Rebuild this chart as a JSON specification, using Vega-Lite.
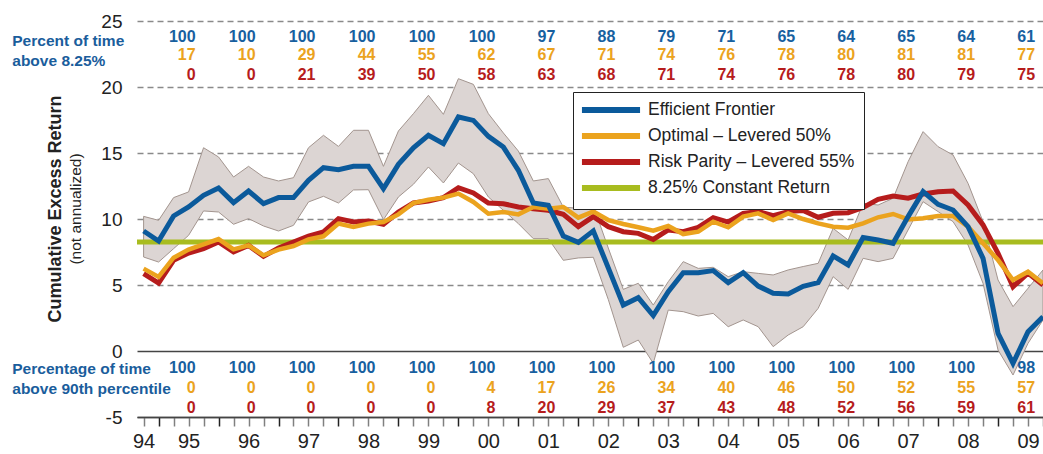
{
  "$schema": "https://vega.github.io/schema/vega-lite/v6.json",
  "width": 906,
  "height": 396,
  "autosize": {"type": "none"},
  "padding": {"left": 137, "top": 21, "right": 0, "bottom": 37},
  "background": "white",
  "title": {
    "text": "Cumulative Excess Return",
    "subtitle": "(not annualized)",
    "orient": "left",
    "anchor": "middle",
    "font": "Liberation Sans",
    "fontSize": 18,
    "fontWeight": "bold",
    "color": "#222222",
    "subtitleFont": "Liberation Sans",
    "subtitleFontSize": 15.5,
    "subtitleColor": "#222222",
    "subtitlePadding": 4,
    "offset": 12,
    "dx": 10,
    "dy": 84
  },
  "config": {"view": {"stroke": null}, "font": "Liberation Sans"},
  "datasets": {
    "series": [
      {"t":1994.75,"ef":9.09,"opt":6.24,"rp":5.86,"hi":10.2,"lo":7.12},
      {"t":1995.0,"ef":8.33,"opt":5.61,"rp":5.15,"hi":9.9,"lo":6.74},
      {"t":1995.25,"ef":10.23,"opt":7.07,"rp":6.87,"hi":11.62,"lo":7.75},
      {"t":1995.5,"ef":10.91,"opt":7.68,"rp":7.42,"hi":12.05,"lo":8.76},
      {"t":1995.75,"ef":11.79,"opt":8.08,"rp":7.75,"hi":15.4,"lo":10.61},
      {"t":1996.0,"ef":12.35,"opt":8.48,"rp":8.26,"hi":14.7,"lo":10.53},
      {"t":1996.25,"ef":11.24,"opt":7.7,"rp":7.5,"hi":13.18,"lo":9.6},
      {"t":1996.5,"ef":12.12,"opt":8.0,"rp":8.0,"hi":13.99,"lo":10.03},
      {"t":1996.75,"ef":11.16,"opt":7.25,"rp":7.17,"hi":13.18,"lo":9.47},
      {"t":1997.0,"ef":11.62,"opt":7.68,"rp":7.8,"hi":12.88,"lo":9.09},
      {"t":1997.25,"ef":11.62,"opt":7.95,"rp":8.26,"hi":13.13,"lo":9.52},
      {"t":1997.5,"ef":12.93,"opt":8.46,"rp":8.71,"hi":15.4,"lo":11.29},
      {"t":1997.75,"ef":13.89,"opt":8.69,"rp":9.02,"hi":16.34,"lo":11.72},
      {"t":1998.0,"ef":13.74,"opt":9.65,"rp":10.03,"hi":15.5,"lo":11.21},
      {"t":1998.25,"ef":13.99,"opt":9.4,"rp":9.77,"hi":16.72,"lo":12.2},
      {"t":1998.5,"ef":13.99,"opt":9.65,"rp":9.85,"hi":16.72,"lo":12.22},
      {"t":1998.75,"ef":12.3,"opt":9.77,"rp":9.6,"hi":13.99,"lo":9.95},
      {"t":1999.0,"ef":14.14,"opt":10.35,"rp":10.53,"hi":16.67,"lo":11.67},
      {"t":1999.25,"ef":15.4,"opt":11.21,"rp":11.21,"hi":17.98,"lo":12.63},
      {"t":1999.5,"ef":16.34,"opt":11.46,"rp":11.36,"hi":19.37,"lo":13.94},
      {"t":1999.75,"ef":15.71,"opt":11.62,"rp":11.62,"hi":17.93,"lo":12.73},
      {"t":2000.0,"ef":17.73,"opt":11.92,"rp":12.37,"hi":20.63,"lo":14.24},
      {"t":2000.25,"ef":17.47,"opt":11.29,"rp":11.97,"hi":20.2,"lo":13.43},
      {"t":2000.5,"ef":16.26,"opt":10.4,"rp":11.21,"hi":17.98,"lo":11.67},
      {"t":2000.75,"ef":15.45,"opt":10.53,"rp":11.16,"hi":16.52,"lo":10.66},
      {"t":2001.0,"ef":13.69,"opt":10.35,"rp":10.91,"hi":15.15,"lo":9.65},
      {"t":2001.25,"ef":11.21,"opt":10.91,"rp":10.78,"hi":12.88,"lo":8.51},
      {"t":2001.5,"ef":11.04,"opt":10.78,"rp":10.66,"hi":13.06,"lo":8.51},
      {"t":2001.75,"ef":8.7,"opt":10.91,"rp":10.35,"hi":10.9,"lo":6.87},
      {"t":2002.0,"ef":8.23,"opt":10.1,"rp":9.42,"hi":10.81,"lo":7.05},
      {"t":2002.25,"ef":9.1,"opt":10.56,"rp":10.18,"hi":11.01,"lo":7.1},
      {"t":2002.5,"ef":6.3,"opt":9.92,"rp":9.42,"hi":7.8,"lo":3.9},
      {"t":2002.75,"ef":3.48,"opt":9.62,"rp":9.04,"hi":4.67,"lo":0.28},
      {"t":2003.0,"ef":4.04,"opt":9.37,"rp":8.91,"hi":5.13,"lo":0.83},
      {"t":2003.25,"ef":2.68,"opt":9.12,"rp":8.45,"hi":3.48,"lo":-0.93},
      {"t":2003.5,"ef":4.49,"opt":9.47,"rp":9.17,"hi":5.25,"lo":3.1},
      {"t":2003.75,"ef":5.93,"opt":8.86,"rp":9.04,"hi":6.77,"lo":2.98},
      {"t":2004.0,"ef":5.93,"opt":9.04,"rp":9.37,"hi":6.26,"lo":2.65},
      {"t":2004.25,"ef":6.09,"opt":9.8,"rp":10.1,"hi":6.34,"lo":2.85},
      {"t":2004.5,"ef":5.18,"opt":9.37,"rp":9.77,"hi":5.63,"lo":1.84},
      {"t":2004.75,"ef":5.93,"opt":10.18,"rp":10.43,"hi":6.01,"lo":2.35},
      {"t":2005.0,"ef":4.92,"opt":10.43,"rp":10.56,"hi":5.88,"lo":1.84},
      {"t":2005.25,"ef":4.37,"opt":9.92,"rp":10.25,"hi":5.76,"lo":0.33},
      {"t":2005.5,"ef":4.32,"opt":10.43,"rp":10.56,"hi":6.14,"lo":1.21},
      {"t":2005.75,"ef":4.9,"opt":10.0,"rp":10.65,"hi":6.4,"lo":1.84},
      {"t":2006.0,"ef":5.18,"opt":9.67,"rp":10.13,"hi":6.64,"lo":3.23},
      {"t":2006.25,"ef":7.2,"opt":9.42,"rp":10.43,"hi":9.29,"lo":5.63},
      {"t":2006.5,"ef":6.52,"opt":9.34,"rp":10.48,"hi":8.41,"lo":4.67},
      {"t":2006.75,"ef":8.59,"opt":9.67,"rp":10.88,"hi":11.19,"lo":7.02},
      {"t":2007.0,"ef":8.41,"opt":10.13,"rp":11.49,"hi":11.06,"lo":6.77},
      {"t":2007.25,"ef":8.16,"opt":10.38,"rp":11.74,"hi":11.57,"lo":7.02},
      {"t":2007.5,"ef":10.18,"opt":9.97,"rp":11.57,"hi":14.34,"lo":9.17},
      {"t":2007.75,"ef":12.07,"opt":10.05,"rp":11.89,"hi":16.62,"lo":11.31},
      {"t":2008.0,"ef":11.11,"opt":10.23,"rp":12.07,"hi":15.48,"lo":10.56},
      {"t":2008.25,"ef":10.68,"opt":10.23,"rp":12.12,"hi":14.85,"lo":9.8},
      {"t":2008.5,"ef":9.42,"opt":9.42,"rp":11.06,"hi":12.7,"lo":8.03},
      {"t":2008.75,"ef":7.02,"opt":8.16,"rp":9.55,"hi":9.8,"lo":5.13},
      {"t":2009.0,"ef":1.34,"opt":6.89,"rp":7.4,"hi":5.38,"lo":0.08},
      {"t":2009.25,"ef":-0.93,"opt":5.38,"rp":4.87,"hi":3.36,"lo":-1.82},
      {"t":2009.5,"ef":1.46,"opt":6.01,"rp":5.9,"hi":4.75,"lo":0.58},
      {"t":2009.75,"ef":2.6,"opt":5.13,"rp":5.0,"hi":6.14,"lo":2.35}
    ],
    "pct": [
      {"year":1995,"ef_above":100,"opt_above":17,"rp_above":0,"ef_p90":100,"opt_p90":0,"rp_p90":0},
      {"year":1996,"ef_above":100,"opt_above":10,"rp_above":0,"ef_p90":100,"opt_p90":0,"rp_p90":0},
      {"year":1997,"ef_above":100,"opt_above":29,"rp_above":21,"ef_p90":100,"opt_p90":0,"rp_p90":0},
      {"year":1998,"ef_above":100,"opt_above":44,"rp_above":39,"ef_p90":100,"opt_p90":0,"rp_p90":0},
      {"year":1999,"ef_above":100,"opt_above":55,"rp_above":50,"ef_p90":100,"opt_p90":0,"rp_p90":0},
      {"year":2000,"ef_above":100,"opt_above":62,"rp_above":58,"ef_p90":100,"opt_p90":4,"rp_p90":8},
      {"year":2001,"ef_above":97,"opt_above":67,"rp_above":63,"ef_p90":100,"opt_p90":17,"rp_p90":20},
      {"year":2002,"ef_above":88,"opt_above":71,"rp_above":68,"ef_p90":100,"opt_p90":26,"rp_p90":29},
      {"year":2003,"ef_above":79,"opt_above":74,"rp_above":71,"ef_p90":100,"opt_p90":34,"rp_p90":37},
      {"year":2004,"ef_above":71,"opt_above":76,"rp_above":74,"ef_p90":100,"opt_p90":40,"rp_p90":43},
      {"year":2005,"ef_above":65,"opt_above":78,"rp_above":76,"ef_p90":100,"opt_p90":46,"rp_p90":48},
      {"year":2006,"ef_above":64,"opt_above":80,"rp_above":78,"ef_p90":100,"opt_p90":50,"rp_p90":52},
      {"year":2007,"ef_above":65,"opt_above":81,"rp_above":80,"ef_p90":100,"opt_p90":52,"rp_p90":56},
      {"year":2008,"ef_above":64,"opt_above":81,"rp_above":79,"ef_p90":100,"opt_p90":55,"rp_p90":59},
      {"year":2009,"ef_above":61,"opt_above":77,"rp_above":75,"ef_p90":98,"opt_p90":57,"rp_p90":61}
    ]
  },
  "layer": [
    {
      "data": {"name": "series"},
      "mark": {"type": "area", "fill": "#dcd5d3", "stroke": "#a3958f", "strokeWidth": 1},
      "encoding": {
        "x": {
          "field": "t", "type": "quantitative", "title": null,
          "scale": {"domain": [1994.64, 2009.75], "nice": false, "zero": false},
          "axis": {
            "values": [1994.75,1995,1995.25,1995.5,1995.75,1996,1996.25,1996.5,1996.75,1997,1997.25,1997.5,1997.75,1998,1998.25,1998.5,1998.75,1999,1999.25,1999.5,1999.75,2000,2000.25,2000.5,2000.75,2001,2001.25,2001.5,2001.75,2002,2002.25,2002.5,2002.75,2003,2003.25,2003.5,2003.75,2004,2004.25,2004.5,2004.75,2005,2005.25,2005.5,2005.75,2006,2006.25,2006.5,2006.75,2007,2007.25,2007.5,2007.75,2008,2008.25,2008.5,2008.75,2009,2009.25,2009.5,2009.75],
            "tickCount": 100,
            "labelExpr": "datum.value == 1994.75 ? '94' : ((datum.value - floor(datum.value)) == 0.5 ? format(floor(datum.value) % 100, '02d') : '')",
            "grid": false,
            "tickSize": 9,
            "tickWidth": 1.5,
            "tickColor": {"condition": {"test": "datum.value == floor(datum.value)", "value": "#222222"}, "value": "#808080"},
            "domainColor": "#444444",
            "domainWidth": 1.5,
            "labelFont": "Liberation Sans",
            "labelFontSize": 20,
            "labelColor": "#222222",
            "labelPadding": 5,
            "labelOverlap": false,
            "labelBound": false,
            "labelFlush": false
          }
        },
        "y": {
          "field": "hi", "type": "quantitative", "title": null,
          "scale": {"domain": [-5, 25], "nice": false, "zero": false},
          "axis": {
            "values": [-5, 0, 5, 10, 15, 20, 25],
            "labelExpr": "'' + datum.value",
            "grid": true,
            "gridDash": {"condition": {"test": "datum.value <= 0", "value": []}, "value": [6, 4]},
            "gridColor": {"condition": {"test": "datum.value <= 0", "value": "#444444"}, "value": "#8a8a8a"},
            "gridWidth": 1.5,
            "domain": false,
            "ticks": false,
            "tickSize": 0,
            "labelPadding": 15,
            "labelFont": "Liberation Sans",
            "labelFontSize": 19,
            "labelColor": "#222222"
          }
        },
        "y2": {"field": "lo"}
      }
    },
    {
      "data": {"values": [{"level": 8.25}]},
      "mark": {"type": "rule", "strokeWidth": 5},
      "encoding": {
        "y": {"field": "level", "type": "quantitative", "title": null},
        "color": {"datum": "8.25% Constant Return", "type": "nominal"}
      }
    },
    {
      "data": {"name": "series"},
      "mark": {"type": "line", "strokeWidth": 5},
      "encoding": {
        "x": {"field": "t", "type": "quantitative", "title": null},
        "y": {"field": "rp", "type": "quantitative", "title": null},
        "color": {"datum": "Risk Parity – Levered 55%", "type": "nominal"}
      }
    },
    {
      "data": {"name": "series"},
      "mark": {"type": "line", "strokeWidth": 4.5},
      "encoding": {
        "x": {"field": "t", "type": "quantitative", "title": null},
        "y": {"field": "opt", "type": "quantitative", "title": null},
        "color": {"datum": "Optimal – Levered 50%", "type": "nominal"}
      }
    },
    {
      "data": {"name": "series"},
      "mark": {"type": "line", "strokeWidth": 5},
      "encoding": {
        "x": {"field": "t", "type": "quantitative", "title": null},
        "y": {"field": "ef", "type": "quantitative", "title": null},
        "color": {
          "datum": "Efficient Frontier", "type": "nominal",
          "scale": {
            "domain": ["Efficient Frontier", "Optimal – Levered 50%", "Risk Parity – Levered 55%", "8.25% Constant Return"],
            "range": ["#0b5a9b", "#eba31e", "#b61c1c", "#a8bc1f"]
          },
          "legend": {
            "title": null,
            "orient": "none",
            "legendX": 436,
            "legendY": 71,
            "symbolType": "M-5,0H5",
            "symbolSize": 135,
            "symbolStrokeWidth": 6,
            "symbolOffset": 20,
            "labelFont": "Liberation Sans",
            "labelFontSize": 17.5,
            "labelColor": "#222222",
            "labelOffset": 28,
            "labelLimit": 400,
            "rowPadding": 2,
            "padding": 9,
            "strokeColor": "#222222",
            "fillColor": "#ffffff"
          }
        }
      }
    },
    {
      "data": {"name": "pct"},
      "mark": {"type": "text", "align": "right", "baseline": "alphabetic", "dx": 37, "font": "Liberation Sans", "fontSize": 16, "fontWeight": "bold", "color": "#17609f"},
      "encoding": {"x": {"field": "year", "type": "quantitative", "title": null}, "y": {"datum": 23.43, "type": "quantitative"}, "text": {"field": "ef_above"}}
    },
    {
      "data": {"name": "pct"},
      "mark": {"type": "text", "align": "right", "baseline": "alphabetic", "dx": 37, "font": "Liberation Sans", "fontSize": 16, "fontWeight": "bold", "color": "#eba31e"},
      "encoding": {"x": {"field": "year", "type": "quantitative", "title": null}, "y": {"datum": 22.05, "type": "quantitative"}, "text": {"field": "opt_above"}}
    },
    {
      "data": {"name": "pct"},
      "mark": {"type": "text", "align": "right", "baseline": "alphabetic", "dx": 37, "font": "Liberation Sans", "fontSize": 16, "fontWeight": "bold", "color": "#b61c1c"},
      "encoding": {"x": {"field": "year", "type": "quantitative", "title": null}, "y": {"datum": 20.5, "type": "quantitative"}, "text": {"field": "rp_above"}}
    },
    {
      "data": {"name": "pct"},
      "mark": {"type": "text", "align": "right", "baseline": "alphabetic", "dx": 37, "font": "Liberation Sans", "fontSize": 16, "fontWeight": "bold", "color": "#17609f"},
      "encoding": {"x": {"field": "year", "type": "quantitative", "title": null}, "y": {"datum": -1.69, "type": "quantitative"}, "text": {"field": "ef_p90"}}
    },
    {
      "data": {"name": "pct"},
      "mark": {"type": "text", "align": "right", "baseline": "alphabetic", "dx": 37, "font": "Liberation Sans", "fontSize": 16, "fontWeight": "bold", "color": "#eba31e"},
      "encoding": {"x": {"field": "year", "type": "quantitative", "title": null}, "y": {"datum": -3.2, "type": "quantitative"}, "text": {"field": "opt_p90"}}
    },
    {
      "data": {"name": "pct"},
      "mark": {"type": "text", "align": "right", "baseline": "alphabetic", "dx": 37, "font": "Liberation Sans", "fontSize": 16, "fontWeight": "bold", "color": "#b61c1c"},
      "encoding": {"x": {"field": "year", "type": "quantitative", "title": null}, "y": {"datum": -4.67, "type": "quantitative"}, "text": {"field": "rp_p90"}}
    },
    {
      "data": {"values": [{"label": "Percent of time\nabove 8.25%"}]},
      "mark": {"type": "text", "align": "left", "baseline": "alphabetic", "lineBreak": "\n", "lineHeight": 20, "font": "Liberation Sans", "fontSize": 15.5, "fontWeight": "bold", "color": "#1a5d9c"},
      "encoding": {"x": {"datum": 1992.56, "type": "quantitative"}, "y": {"datum": 23.08, "type": "quantitative"}, "text": {"field": "label"}}
    },
    {
      "data": {"values": [{"label": "Percentage of time\nabove 90th percentile"}]},
      "mark": {"type": "text", "align": "left", "baseline": "alphabetic", "lineBreak": "\n", "lineHeight": 20, "font": "Liberation Sans", "fontSize": 15.5, "fontWeight": "bold", "color": "#1a5d9c"},
      "encoding": {"x": {"datum": 1992.56, "type": "quantitative"}, "y": {"datum": -1.75, "type": "quantitative"}, "text": {"field": "label"}}
    }
  ]
}
